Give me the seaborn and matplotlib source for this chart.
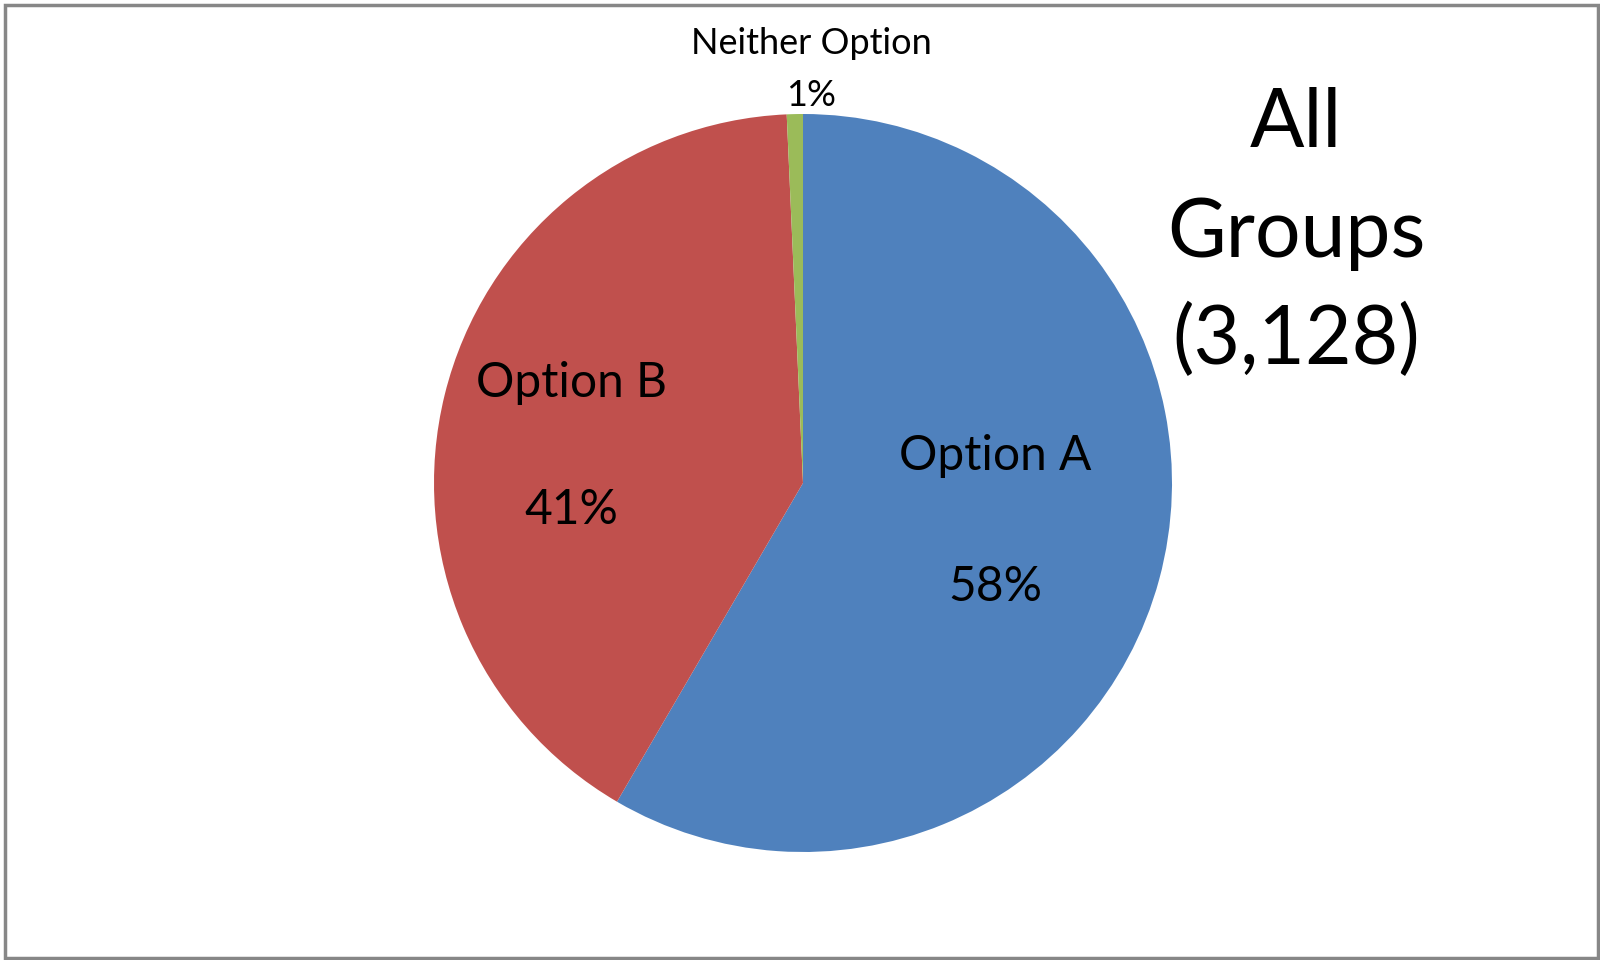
import numpy as np
import seaborn as sns
import matplotlib.pyplot as plt
from matplotlib.patches import Rectangle

sns.set_theme(style="white")
plt.rcParams["font.family"] = ["Lato", "DejaVu Sans"]

# ---- data ----
labels = ["Option A", "Option B", "Neither Option"]
counts = [1827, 1279, 22]          # estimated split of 3,128
pct_labels = ["58%", "41%", "1%"]
colors = ["#4F81BD", "#C0504D", "#9BBB59"]
title_lines = ["All", "Groups", "(3,128)"]

W, H = 1600, 960
fig = plt.figure(figsize=(16, 9.6), dpi=100)
ax = fig.add_axes([0, 0, 1, 1])

# pie centre / radius in pixel units (y measured from bottom)
cx, cy, r = 803, H - 483, 369
ax.pie(counts, colors=colors, startangle=90, counterclock=False,
       center=(cx, cy), radius=r, frame=True,
       wedgeprops=dict(linewidth=0))
ax.set_xlim(0, W)
ax.set_ylim(0, H)
ax.set_aspect("equal")
ax.axis("off")

# data labels (positions like Excel's best fit)
label_pos = {
    "Option A": ((995, 456), (995, 587), 34.5),
    "Option B": ((571, 383), (571, 510), 34.5),
    "Neither Option": ((811, 43), (811, 96), 26),
}
for name, pct in zip(labels, pct_labels):
    (lx, ly), (px, py), fs = label_pos[name]
    ax.text(lx, H - ly, name, ha="center", va="center", fontsize=fs, color="black")
    ax.text(px, H - py, pct, ha="center", va="center", fontsize=fs, color="black")

# title at right
for txt, ty in zip(title_lines, [124, 234, 340]):
    ax.text(1296, H - ty, txt, ha="center", va="center", fontsize=58, color="black")

# chart border
ax.add_patch(Rectangle((5, 2), W - 7, H - 7, fill=False, edgecolor="#878787",
                       linewidth=2.5, clip_on=False))

fig.savefig("out.png", dpi=100)
